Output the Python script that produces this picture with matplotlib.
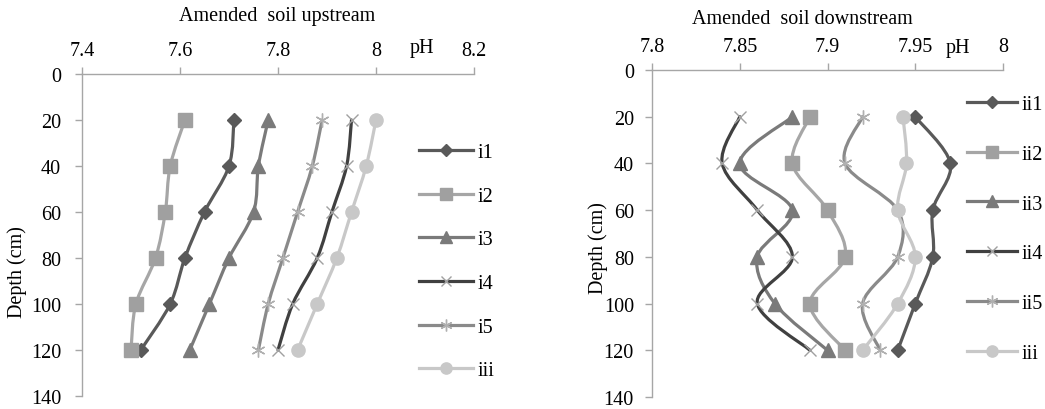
import numpy as np
import matplotlib
matplotlib.use('Agg')
import matplotlib.pyplot as plt
from matplotlib.path import Path
from matplotlib.patches import PathPatch
from matplotlib.lines import Line2D

plt.rcParams['font.family'] = ['Liberation Serif', 'DejaVu Serif']

depth = [20, 40, 60, 80, 100, 120]

# upstream
up_names = ['i1', 'i2', 'i3', 'i4', 'i5', 'iii']
i1  = [7.71, 7.70, 7.65, 7.61, 7.58, 7.52]
i2  = [7.61, 7.58, 7.57, 7.55, 7.51, 7.50]
i3  = [7.78, 7.76, 7.75, 7.70, 7.66, 7.62]
i4  = [7.95, 7.94, 7.91, 7.88, 7.83, 7.80]
i5  = [7.89, 7.87, 7.84, 7.81, 7.78, 7.76]
iii_up = [8.00, 7.98, 7.95, 7.92, 7.88, 7.84]

# downstream
dn_names = ['ii1', 'ii2', 'ii3', 'ii4', 'ii5', 'iii']
ii1 = [7.95, 7.97, 7.96, 7.96, 7.95, 7.94]
ii2 = [7.89, 7.88, 7.90, 7.91, 7.89, 7.91]
ii3 = [7.88, 7.85, 7.88, 7.86, 7.87, 7.90]
ii4 = [7.85, 7.84, 7.86, 7.88, 7.86, 7.89]
ii5 = [7.92, 7.91, 7.94, 7.94, 7.92, 7.93]
iii_dn = [7.943, 7.945, 7.94, 7.95, 7.94, 7.92]

# line colour, marker, marker size, marker colour
styles = [
    ('#595959', 'D', 7,   '#595959'),
    ('#a6a6a6', 's', 9.5, '#a0a0a0'),
    ('#7a7a7a', '^', 10,  '#7a7a7a'),
    ('#404040', 'x', 9,   '#a0a0a0'),
    ('#8a8a8a', (6, 2, 0), 10, '#b0b0b0'),
    ('#c8c8c8', 'o', 9.5, '#c8c8c8'),
]


def smooth_path(x, y):
    # excel-like smoothed line: catmull-rom -> cubic bezier
    pts = np.column_stack([x, y]).astype(float)
    ext = np.vstack([pts[0], pts, pts[-1]])
    verts = [pts[0]]
    codes = [Path.MOVETO]
    for k in range(len(pts) - 1):
        p0, p1, p2, p3 = ext[k], ext[k+1], ext[k+2], ext[k+3]
        c1 = p1 + (p2 - p0) / 6
        c2 = p2 - (p3 - p1) / 6
        verts += [c1, c2, p2]
        codes += [Path.CURVE4] * 3
    return Path(verts, codes)


def draw(ax, series, names, xlim, xticks, xlabels, title, title_x, title_y, ph_x,
         ylab_xy, ypad, leg_pos, leg_sp, leg_hl):
    ax.set_xlim(*xlim)
    ax.set_ylim(140, 0)
    ax.xaxis.tick_top()
    ax.set_xticks(xticks)
    ax.set_xticklabels(xlabels)
    ax.set_yticks(range(0, 141, 20))
    for s in ['right', 'bottom']:
        ax.spines[s].set_visible(False)
    for s in ['left', 'top']:
        ax.spines[s].set_color('#a6a6a6')
        ax.spines[s].set_linewidth(1)
    ax.tick_params(axis='x', direction='out', length=5, width=1, color='#a6a6a6', pad=5, labelsize=14.5)
    ax.tick_params(axis='y', direction='out', length=5, width=1, color='#a6a6a6', pad=ypad, labelsize=14.5)
    ax.set_ylabel('Depth (cm)', fontsize=14.5, va='center')
    ax.yaxis.set_label_coords(*ylab_xy)
    ax.patch.set_alpha(0)

    handles = []
    for vals, name, (lc, mk, ms, mc) in zip(series, names, styles):
        ax.add_patch(PathPatch(smooth_path(vals, depth), fill=False, edgecolor=lc, lw=2.3,
                               capstyle='round', joinstyle='round', clip_on=False, zorder=2))
        ax.plot(vals, depth, linestyle='none', marker=mk, ms=ms, color=mc, mec=mc,
                mew=1.0, clip_on=False, zorder=3)
        handles.append(Line2D([], [], color=lc, lw=2.3, marker=mk, ms=ms * 0.85,
                              mfc=mc, mec=mc, mew=1.0))
    fig.legend(handles, names, loc='upper left', bbox_to_anchor=leg_pos, frameon=False,
               fontsize=14.5, handlelength=leg_hl, handletextpad=0.2, labelspacing=leg_sp,
               borderpad=0, borderaxespad=0)
    fig.text(title_x, title_y, title, ha='center', va='center', fontsize=14.5)
    fig.text(ph_x, 1 - 48 / 410, 'pH', ha='center', va='center', fontsize=14.5)


fig = plt.figure(figsize=(10.45, 4.1), dpi=100)
ax1 = fig.add_axes([82 / 1045, 13 / 410, 392 / 1045, 322 / 410])
ax2 = fig.add_axes([652 / 1045, 12 / 410, 351 / 1045, 327 / 410])

draw(ax1, [i1, i2, i3, i4, i5, iii_up], up_names, (7.4, 8.2),
     [7.4, 7.6, 7.8, 8.0, 8.2], ['7.4', '7.6', '7.8', '8', '8.2'],
     'Amended  soil upstream', 277 / 1045, 1 - 17 / 410, 422 / 1045,
     (-0.166, 0.388), 10, (419 / 1045, 1 - 144 / 410), 1.22, 2.7)
draw(ax2, [ii1, ii2, ii3, ii4, ii5, iii_dn], dn_names, (7.8, 8.0),
     [7.8, 7.85, 7.9, 7.95, 8.0], ['7.8', '7.85', '7.9', '7.95', '8'],
     'Amended  soil downstream', 802 / 1045, 1 - 19 / 410, 958 / 1045,
     (-0.154, 0.459), 8, (967 / 1045, 1 - 96 / 410), 1.52, 2.5)

fig.savefig('out.png', dpi=100)
